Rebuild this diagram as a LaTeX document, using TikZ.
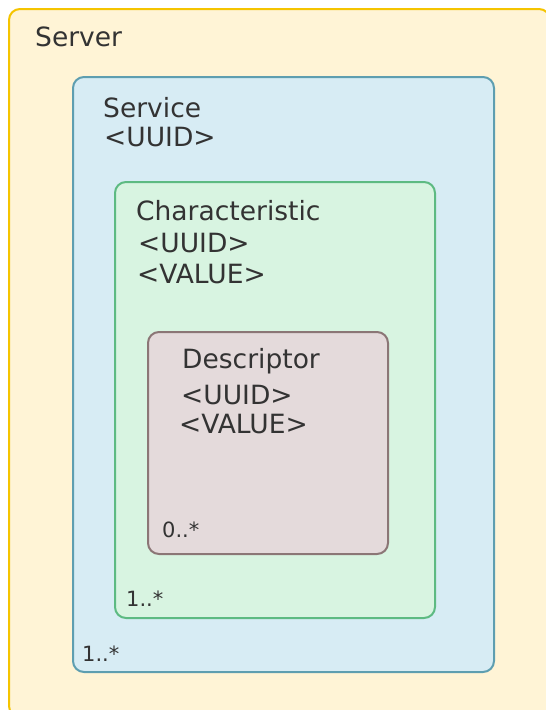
\documentclass[tikz,border=0pt]{standalone}
\usepackage{fontspec}
\setmainfont{DejaVu Sans}
\definecolor{srvfill}{HTML}{FFF4D6}
\definecolor{srvline}{HTML}{F5C400}
\definecolor{svcfill}{HTML}{D7ECF4}
\definecolor{svcline}{HTML}{5E9EB0}
\definecolor{chrfill}{HTML}{D8F4E1}
\definecolor{chrline}{HTML}{5DBA82}
\definecolor{dscfill}{HTML}{E4DADB}
\definecolor{dscline}{HTML}{8B7676}
\definecolor{txt}{HTML}{333333}
\begin{document}
\begin{tikzpicture}[x=1pt,y=-1pt,
  box/.style={draw, line width=2pt, rounded corners=11pt, anchor=north west, inner sep=0pt},
  title/.style={anchor=base west, inner sep=0pt, text=txt, font=\fontsize{26.5}{31}\selectfont},
  mult/.style={anchor=base west, inner sep=0pt, text=txt, font=\fontsize{21}{25}\selectfont}]
\useasboundingbox (0,0) rectangle (546,710);
\fill[white] (0,0) rectangle (546,710);
\node[box, draw=srvline, fill=srvfill, minimum width=541pt, minimum height=708pt] (server) at (8,8) {};
\node[box, draw=svcline, fill=svcfill, minimum width=421pt, minimum height=595pt] (service) at (72,76) {};
\node[box, draw=chrline, fill=chrfill, minimum width=320pt, minimum height=436pt] (char) at (114,181) {};
\node[box, draw=dscline, fill=dscfill, minimum width=240pt, minimum height=222pt] (desc) at (147,331) {};
\node[title] (serverT) at (35,46) {Server};
\node[title] (serviceT) at (103,117) {Service};
\node[title] (serviceU) at (104,146) {<UUID>};
\node[title] (charT) at (136,220) {Characteristic};
\node[title] (charU) at (138,252) {<UUID>};
\node[title] (charV) at (137,283) {<VALUE>};
\node[title] (descT) at (182,368) {Descriptor};
\node[title] (descU) at (181,404) {<UUID>};
\node[title] (descV) at (179,433) {<VALUE>};
\node[mult] (descM) at (162,537) {0..*};
\node[mult] (charM) at (126,606) {1..*};
\node[mult] (serviceM) at (82,661) {1..*};
\end{tikzpicture}
\end{document}
